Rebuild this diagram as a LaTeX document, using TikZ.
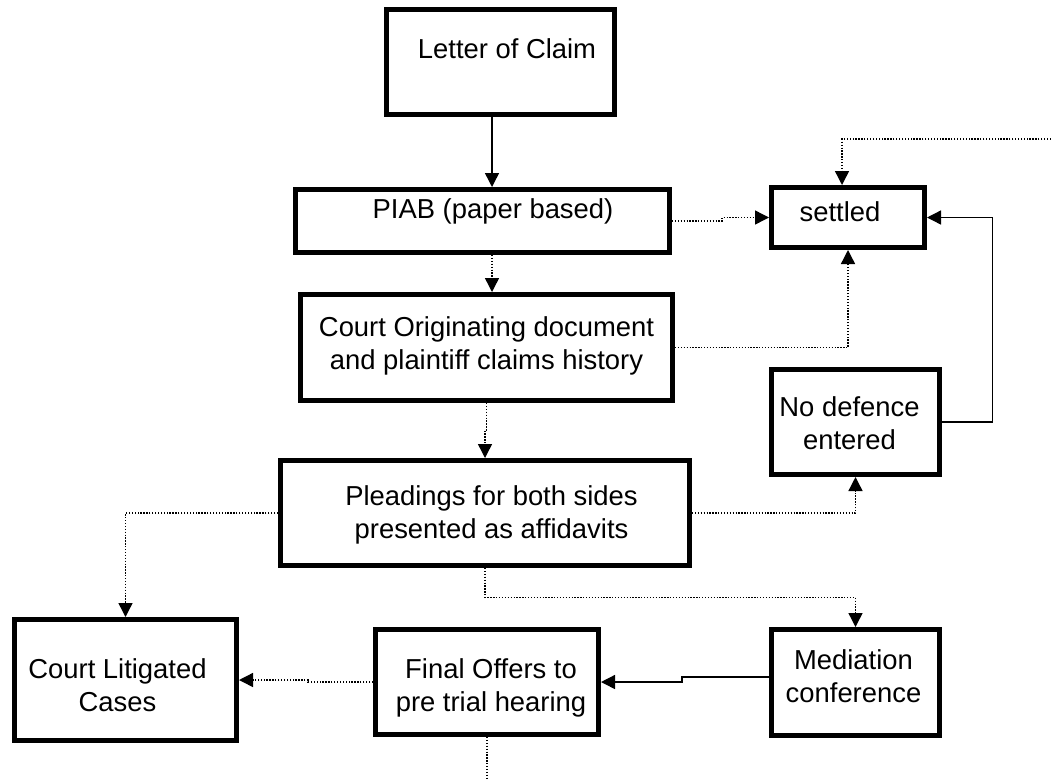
\documentclass[tikz,border=0pt]{standalone}
\usepackage{fontspec}
\setmainfont{Liberation Sans}
\usetikzlibrary{arrows.meta}
\newcommand{\boxtext}[3]{\raisebox{#2}[\height][\depth]{\kern#1\begin{tabular}{@{}c@{}}#3\end{tabular}\kern-#1}}
\begin{document}
\begin{tikzpicture}[x=1pt,y=-1pt,
  box/.style={draw, line width=5pt, inner sep=0pt, fill=white,
    font=\fontsize{27.4}{33}\selectfont},
  conn/.style={line width=1.4pt, -{Triangle[length=14pt,width=14pt]}},
  dots/.style={conn, dash pattern=on 1.3pt off 1.6pt},
  dotline/.style={line width=1.4pt, dash pattern=on 1.3pt off 1.6pt}]
\useasboundingbox (0,0) rectangle (1051,780);

\node[box, minimum width=228pt, minimum height=105pt] (letter) at (500,62)
  {\boxtext{7pt}{10pt}{Letter of Claim}};
\node[box, minimum width=374pt, minimum height=63pt] (piab) at (482.5,221)
  {\boxtext{10.5pt}{9pt}{PIAB (paper based)}};
\node[box, minimum width=153pt, minimum height=60pt] (settled) at (848,217.5)
  {\boxtext{-8pt}{2.5pt}{settled}};
\node[box, minimum width=372pt, minimum height=106pt] (corig) at (486.5,347.5)
  {\boxtext{0pt}{1pt}{Court Originating document\\and plaintiff claims history}};
\node[box, minimum width=168pt, minimum height=105pt] (nodef) at (855.5,422)
  {\boxtext{-6pt}{-4.5pt}{No defence\\entered}};
\node[box, minimum width=409pt, minimum height=105pt] (plead) at (485,513)
  {\boxtext{6.5pt}{-2pt}{Pleadings for both sides\\presented as affidavits}};
\node[box, minimum width=222pt, minimum height=121pt] (courtlit) at (125.5,680)
  {\boxtext{-8pt}{-8pt}{Court Litigated\\Cases}};
\node[box, minimum width=223pt, minimum height=105pt] (final) at (487,682)
  {\boxtext{4pt}{-6pt}{Final Offers to\\pre trial hearing}};
\node[box, minimum width=168pt, minimum height=106pt] (mediation) at (855.5,682.5)
  {\boxtext{-2pt}{3.5pt}{Mediation\\conference}};

\coordinate (topright) at (1051,139);
\coordinate (bottomend) at (487,780);

% solid connectors
\draw[conn] ([xshift=-8pt]letter.south) -- ([xshift=-8pt]letter.south |- piab.north);
\draw[conn] (nodef.east) -- ++(50.5,0) |- (settled.east);
\draw[conn] ([yshift=5.5pt]mediation.west) -- ++(-87,0) |- (final.east);

% dotted connectors
\draw[dots] ([xshift=9.5pt]piab.south) -- ([xshift=9.5pt]piab.south |- corig.north);
\draw[dots] (piab.east) -- ++(50,0) |- (settled.west);
\draw[dots] (topright) -| ([xshift=-6pt]settled.north);
\draw[dots] (corig.east) -| (settled.south);
\draw[dots] (corig.south) -- ++(0,27) -| (plead.north);
\draw[dots] (plead.west) -| (courtlit.north);
\draw[dots] (plead.east) -| (nodef.south);
\draw[dots] (plead.south) -- ++(0,29.5) -| (mediation.north);
\draw[dots] (final.west) -- ++(-65,0) |- (courtlit.east);
\draw[dotline] (final.south) -- (bottomend);
\end{tikzpicture}
\end{document}
